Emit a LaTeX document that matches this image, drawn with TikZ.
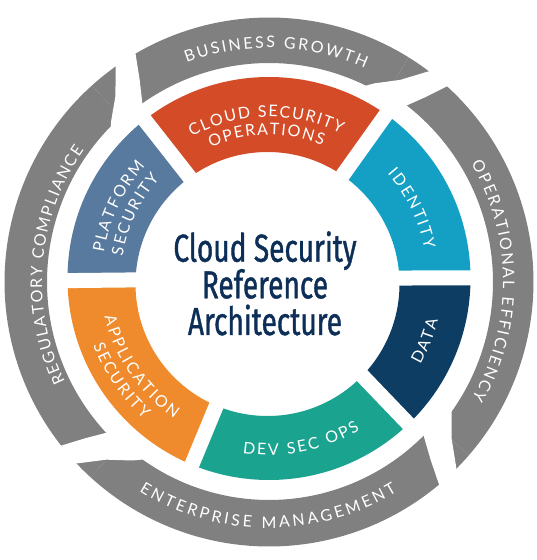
\documentclass[tikz,border=0pt]{standalone}
\usepackage{fontspec}

\newfontfamily\labelfont{Lato}
\newfontfamily\titlefont[FakeStretch=0.72,FakeBold=1]{Fira Sans}
\newcommand\lblfont{\labelfont\fontsize{16}{16}\selectfont}

\definecolor{ringgray}{HTML}{808080}
\definecolor{opsred}{HTML}{D34B27}
\definecolor{identblue}{HTML}{14A0C4}
\definecolor{datanavy}{HTML}{0D3D63}
\definecolor{devteal}{HTML}{1AA38F}
\definecolor{apporange}{HTML}{EF8B2C}
\definecolor{platslate}{HTML}{587A9E}
\definecolor{titlenavy}{HTML}{0D2F57}

\tikzset{
  ringchar/.style={anchor=base, inner sep=0pt, text=white},
  gapline/.style={white, line width=15pt},
  titleline/.style={anchor=base, text=titlenavy, font=\titlefont\fontsize{39}{39}\selectfont},
}

% one letter of a curved label
\newcommand\placechar[4]{\node[ringchar, rotate=#3] at (#1,#2) {\lblfont #4};}

% letter-spaced text along an arc:
% [tracking] {centre angle} {baseline radius} {1 = clockwise, -1 = anticlockwise} {text}
\ExplSyntaxOn
\dim_new:N \l__ring_s_dim
\box_new:N \l__ring_box
\fp_new:N \l__ring_ang_fp
\cs_new_protected:Npn \__ring_measure:n #1
 {
  \hbox_set:Nn \l__ring_box
   { \pgfinterruptpicture \lblfont #1 \endpgfinterruptpicture }
 }
\NewDocumentCommand \ringtext { O{2pt} m m m m }
 {
  \dim_zero:N \l__ring_s_dim
  \str_map_inline:nn {#5}
   {
    \__ring_measure:n {##1}
    \dim_add:Nn \l__ring_s_dim { \box_wd:N \l__ring_box + #1 }
   }
  \dim_set:Nn \l__ring_s_dim { -0.5\l__ring_s_dim + (#1) / 2 }
  \str_map_inline:nn {#5}
   {
    \__ring_measure:n {##1}
    \fp_set:Nn \l__ring_ang_fp
     { #2 - (#4) * ( \dim_to_fp:n { \l__ring_s_dim + 0.5\box_wd:N \l__ring_box } / (#3) ) * 180 / pi }
    \tl_set:Nx \l_tmpa_tl { \fp_eval:n { (#3) * cosd(\l__ring_ang_fp) } }
    \tl_set:Nx \l_tmpb_tl { \fp_eval:n { (#3) * sind(\l__ring_ang_fp) } }
    \tl_set:Nx \l_tmpc_tl { \fp_eval:n { \l__ring_ang_fp - 90 * (#4) } }
    \placechar { \l_tmpa_tl } { \l_tmpb_tl } { \l_tmpc_tl } { ##1 }
    \dim_add:Nn \l__ring_s_dim { \box_wd:N \l__ring_box + #1 }
   }
 }
\ExplSyntaxOff

\begin{document}
\begin{tikzpicture}[x=1pt,y=1pt]
\useasboundingbox (0,0) rectangle (536,560);
\fill[white] (0,0) rectangle (536,560);

% centres of the two rings
\coordinate (Cg) at (269,278);
\coordinate (Co) at (269,281.5);
\coordinate (Ci) at (267.5,276);

% outer grey ring: one sector per theme
\begin{scope}[shift={(Cg)}]
  \foreach \sa/\sb/\rin in {58.1/132/219, -40.9/58.1/224, -132.4/-40.9/218, 132/227.6/222}
    \fill[ringgray] (\sa:\rin) arc[start angle=\sa, end angle=\sb, radius=\rin]
      -- (\sb:264.5) arc[start angle=\sb, end angle=\sa, radius=264.5] -- cycle;
  % swoosh cuts between themes
  \foreach \o in {50.5,-47.2,221,123.1}
    \fill[white] ({\o-3.4}:272) -- ({\o+1}:272) -- ({\o+2.4}:264) -- ({\o+6.5}:241)
      -- ({\o+11.5}:225) -- ({\o+18}:205) -- ({\o+4.5}:205) -- ({\o+1.8}:222)
      -- ({\o-0.6}:241) -- cycle;
  % theme labels
  \ringtext[2.3pt]{88.2}{234}{1}{BUSINESS GROWTH}
  \ringtext[2pt]{0.2}{234}{1}{OPERATIONAL EFFICIENCY}
  \ringtext[3pt]{269.8}{246}{-1}{ENTERPRISE MANAGEMENT}
  \ringtext[1.6pt]{175.3}{227}{1}{REGULATORY COMPLIANCE}
\end{scope}

% inner coloured ring
\foreach \sa/\sb/\col in {0.2/54.5/identblue, 54.5/128.1/opsred, 128.1/181.2/platslate,
    181.2/247.5/apporange, 247.5/313.8/devteal, 313.8/360.2/datanavy}{
  \begin{scope}
    \clip (Co) -- ++(\sa:230) arc[start angle=\sa, end angle=\sb, radius=230] -- cycle;
    \fill[\col, even odd rule] (Co) circle[radius=201.5] (Ci) circle[radius=132];
  \end{scope}
}

\begin{scope}[shift={(Co)}]
  % white gaps between the segments
  \foreach \g in {0.2,54.5,128.1,180.6,247.5,313.8}
    \draw[gapline] (\g:110) -- (\g:212);
  % segment labels
  \ringtext[1.6pt]{91}{161.5}{1}{CLOUD SECURITY}
  \ringtext[1.6pt]{91}{143.5}{1}{OPERATIONS}
  \ringtext{26}{158}{1}{IDENTITY}
  \ringtext[1.5pt]{-21.8}{174}{-1}{DATA}
  \ringtext[2.2pt]{281.2}{176.5}{-1}{DEV SEC OPS}
  \ringtext[2.3pt]{214.5}{169}{-1}{APPLICATION}
  \ringtext[2.3pt]{214.5}{188}{-1}{SECURITY}
  \ringtext[1.8pt]{154.5}{167}{1}{PLATFORM}
  \ringtext[1.8pt]{154.5}{148}{1}{SECURITY}
\end{scope}

% title
\node[titleline] (cloud) at (265,298.3) {Cloud Security};
\node[titleline] (reference) at (265,261.7) {Reference};
\node[titleline] (architecture) at (265,225) {Architecture};
\end{tikzpicture}
\end{document}
